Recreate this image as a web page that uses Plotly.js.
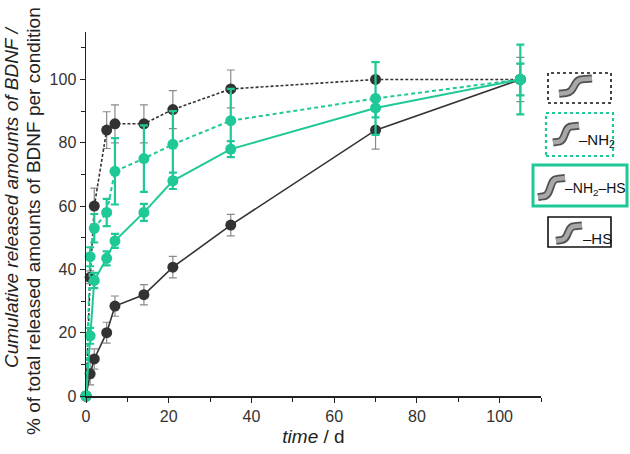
<!DOCTYPE html>
<html lang="en">
<head>
  <meta charset="UTF-8">
  <title>BDNF release</title>
  <script src="https://cdn.plot.ly/plotly-3.0.1.min.js" charset="utf-8"></script>
  <style>
    body { margin: 0; background: #fff; }
    #chart { width: 630px; height: 454px; }
  </style>
</head>
<body>
  <div id="chart"></div>
  <script>
    // time points (days) and cumulative release in % of total per condition
    const days = [0, 1, 2, 5, 7, 14, 21, 35, 70, 105];

    const unmod = [0, 37.5, 60, 84, 86, 86, 90.5, 97, 100, 100];
    const unmodErr = [0, 2, 5.7, 5.8, 6, 6, 6, 6, 5.5, 5];

    const nh2 = [0, 44, 53, 58, 71, 75, 79.5, 87, 94, 100];
    const nh2Err = [0, 3, 4.5, 4.3, 10.5, 10.5, 10.5, 10, 11.5, 11];

    const nh2hs = [0, 19, 36.5, 43.5, 49, 58, 68, 78, 91, 100];
    const nh2hsErr = [0, 2.5, 2.4, 2.2, 2.2, 2.7, 2.6, 2.5, 3, 5];

    const hs = [0, 7, 11.7, 20, 28.4, 32, 40.7, 54, 84, 100];
    const hsErr = [0, 3.5, 3.2, 3.3, 3.2, 3.2, 3.4, 3.4, 6, 7];

    const green = '#1fc997';
    const dark = '#333333';
    const font = 'Liberation Sans, Arial, sans-serif';

    // plot area in pixels, used to place the legend boxes and y title
    const L = 86, R = 541, T = 32, B = 396;
    function px(x) { return (x - L) / (R - L); }
    function py(y) { return (B - y) / (B - T); }

    function series(y, err, color, dash, lw, errColor, errW) {
      return {
        x: days, y: y, type: 'scatter', mode: 'lines+markers',
        cliponaxis: false,
        line: {color: color, width: lw, dash: dash},
        marker: {color: color, size: 11},
        error_y: {type: 'data', array: err, visible: true, color: errColor, thickness: errW, width: 4},
        showlegend: false
      };
    }

    const data = [
      series(hs, hsErr, dark, 'solid', 1.6, '#8a8a8a', 1.2),
      series(unmod, unmodErr, dark, '3px,2px', 1.6, '#8a8a8a', 1.2),
      series(nh2hs, nh2hsErr, green, 'solid', 2, green, 2.2),
      series(nh2, nh2Err, green, '4px,3px', 2, green, 2.2)
    ];

    // S-shaped tube icon
    function tube(x0, y0, w, h) {
      const p = (a, b) => px(x0 + a * w) + ',' + py(y0 + b * h);
      const d = 'M' + p(0, 0.88) + ' L' + p(0.22, 0.84) +
        ' C' + p(0.5, 0.8) + ' ' + p(0.42, 0.14) + ' ' + p(0.7, 0.12) +
        ' L' + p(1, 0.08);
      return [
        {type: 'path', xref: 'paper', yref: 'paper', path: d, line: {color: '#505050', width: 8}},
        {type: 'path', xref: 'paper', yref: 'paper', path: d, line: {color: '#a8a8a8', width: 4.5}}
      ];
    }

    function box(x0, y0, x1, y1, color, dash, w) {
      return {type: 'rect', xref: 'paper', yref: 'paper',
        x0: px(x0), x1: px(x1), y0: py(y1), y1: py(y0),
        line: {color: color, width: w, dash: dash}, fillcolor: 'rgba(0,0,0,0)'};
    }

    const shapes = [
      box(548, 73, 611, 103, '#111', 'dot', 1.6),
      box(546, 113, 613, 156, green, 'dot', 2.2),
      box(533, 165, 627, 206, green, 'solid', 3),
      box(548, 217, 611, 247, '#111', 'solid', 1.6)
    ].concat(tube(559, 77, 33, 19), tube(553, 124, 26, 21), tube(538, 176, 27, 24), tube(556, 224, 26, 19));

    function label(text, x, y, size) {
      return {xref: 'paper', yref: 'paper', x: px(x), y: py(y), xanchor: 'left', yanchor: 'middle',
        text: text, showarrow: false, borderpad: 0, font: {family: font, size: size, color: '#111'}};
    }

    function ytitle(text, x, y) {
      return {xref: 'paper', yref: 'paper', x: px(x), y: py(y), xanchor: 'center', yanchor: 'middle',
        textangle: -90, text: text, showarrow: false, font: {family: font, size: 19, color: '#222'}};
    }

    const annotations = [
      label('\u2013NH<sub>2</sub>', 578, 140, 15),
      label('\u2013NH<sub>2</sub>\u2013HS', 564, 189, 14),
      label('\u2013HS', 582, 238, 15),
      ytitle('<i>Cumulative released amounts of BDNF /</i>', 11, 198),
      ytitle('% of total released amounts of BDNF per condition', 34, 221)
    ];

    const layout = {
      width: 630, height: 454,
      margin: {l: L, r: 630 - R, t: T, b: 454 - B},
      paper_bgcolor: '#fff', plot_bgcolor: '#fff',
      font: {family: font, size: 16, color: '#333'},
      xaxis: {
        range: [0, 110], dtick: 20, tick0: 0,
        showgrid: false, zeroline: false,
        showline: true, linecolor: '#222', linewidth: 1.5,
        ticks: 'outside', ticklen: 5, tickcolor: '#222',
        minor: {dtick: 10, ticks: 'outside', ticklen: 4, tickcolor: '#222'},
        title: {text: '<i>time</i> / d', font: {size: 19, color: '#222'}, standoff: 6}
      },
      yaxis: {
        range: [0, 115], dtick: 20, tick0: 0,
        showgrid: false, zeroline: false,
        showline: true, linecolor: '#222', linewidth: 1.5,
        ticks: 'outside', ticklen: 5, tickcolor: '#222',
        minor: {dtick: 10, ticks: 'outside', ticklen: 4, tickcolor: '#222'}
      },
      shapes: shapes,
      annotations: annotations
    };

    Plotly.newPlot('chart', data, layout, {staticPlot: true});
  </script>
</body>
</html>
